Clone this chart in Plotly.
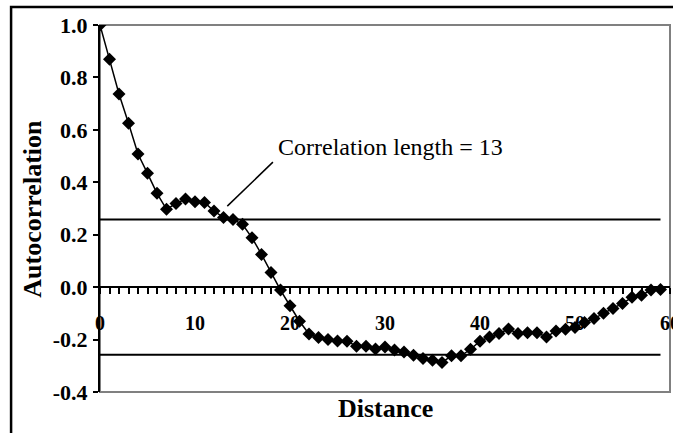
import plotly.graph_objects as go

# ---- data ----
distance = list(range(60))
autocorr = [1.0, 0.869, 0.737, 0.625, 0.508, 0.434, 0.358, 0.297, 0.319, 0.336,
            0.326, 0.323, 0.29, 0.266, 0.258, 0.24, 0.188, 0.125, 0.056, -0.011,
            -0.071, -0.13, -0.179, -0.192, -0.2, -0.205, -0.206, -0.225, -0.225, -0.236,
            -0.228, -0.24, -0.247, -0.26, -0.272, -0.279, -0.287, -0.262, -0.262, -0.237,
            -0.206, -0.19, -0.177, -0.16, -0.177, -0.174, -0.174, -0.19, -0.167, -0.161,
            -0.154, -0.135, -0.12, -0.1, -0.081, -0.062, -0.039, -0.031, -0.011, -0.009]
bound_x = [0, 59]
bound_level = 0.258
y_tickvals = [-0.4, -0.2, 0.0, 0.2, 0.4, 0.6, 0.8, 1.0]
y_ticktext = ["-0.4", "-0.2", "0.0", "0.2", "0.4", "0.6", "0.8", "1.0"]
x_tickvals = [0, 10, 20, 30, 40, 50, 60]
x_ticktext = ["0", "10", "20", "30", "40", "50", "60"]
annotation_text = "Correlation length = 13"
corr_length = 13

FONT = "Liberation Serif, Times New Roman, serif"
Y_MIN, Y_MAX = -0.4, 1.0
X_MIN, X_MAX = 0, 60

fig = go.Figure()
for lvl in (bound_level, -bound_level):
    fig.add_trace(go.Scatter(x=bound_x, y=[lvl, lvl], mode="lines",
                             line=dict(color="black", width=2),
                             showlegend=False, hoverinfo="skip"))
fig.add_trace(go.Scatter(x=distance, y=autocorr, mode="lines+markers",
                         line=dict(color="black", width=1.5),
                         marker=dict(symbol="diamond", size=10, color="black"),
                         showlegend=False))

fig.update_layout(
    width=673, height=433,
    margin=dict(l=100, r=3, t=25, b=41, autoexpand=False),
    paper_bgcolor="white", plot_bgcolor="rgba(0,0,0,0)",
    font=dict(family=FONT, color="black"),
    xaxis=dict(range=[X_MIN, X_MAX], anchor="free", automargin=False,
               position=(0 - Y_MIN) / (Y_MAX - Y_MIN),
               showline=True, linecolor="black", linewidth=2,
               showgrid=False, zeroline=False,
               tickvals=x_tickvals, ticktext=x_ticktext,
               ticks="outside", ticklen=6, tickwidth=1.5, tickcolor="black",
               minor=dict(dtick=1, ticks="outside", ticklen=6, tickwidth=1.5,
                          tickcolor="black", showgrid=False),
               ticklabelstandoff=12, ticklabeloverflow="allow",
               tickfont=dict(family=FONT, size=20, weight="bold")),
    yaxis=dict(range=[Y_MIN, Y_MAX], domain=[0, 1], automargin=False,
               showline=True, linecolor="black", linewidth=2,
               showgrid=False, zeroline=False,
               tickvals=y_tickvals, ticktext=y_ticktext,
               ticks="outside", ticklen=5, tickwidth=1.5, tickcolor="black",
               ticklabelstandoff=1,
               tickfont=dict(family=FONT, size=22, weight="bold")),
)

# plot-area border (grey) and outer chart frame (black)
fig.add_shape(type="rect", xref="paper", yref="paper", x0=0, x1=1, y0=0, y1=1,
              line=dict(color="#808080", width=2), layer="below")
fig.add_shape(type="rect", xref="paper", yref="paper", x0=-0.156, x1=1.2,
              y0=-0.3, y1=1.049, line=dict(color="black", width=2.5))

# titles
fig.add_annotation(text="Distance", xref="paper", yref="paper", x=0.5, y=-0.046,
                   showarrow=False, xanchor="center", yanchor="middle",
                   font=dict(family=FONT, size=26, weight="bold"))
fig.add_annotation(text="Autocorrelation", xref="paper", yref="paper", x=-0.119, y=0.5,
                   showarrow=False, textangle=-90, xanchor="center", yanchor="middle",
                   font=dict(family=FONT, size=26, weight="bold"))

# correlation length note with leader line
fig.add_shape(type="line", xref="x", yref="y", x0=corr_length + 0.4, y0=0.309,
              x1=corr_length + 5.2, y1=0.477, line=dict(color="black", width=1.5))
fig.add_annotation(text=annotation_text, xref="x", yref="y", x=corr_length + 5.5, y=0.534,
                   showarrow=False, xanchor="left", yanchor="middle",
                   font=dict(family=FONT, size=24))

fig.write_html("out.html",
               config={"displayModeBar": False},
               post_script="document.body.style.margin='0';"
                           "document.body.style.overflow='hidden';")
